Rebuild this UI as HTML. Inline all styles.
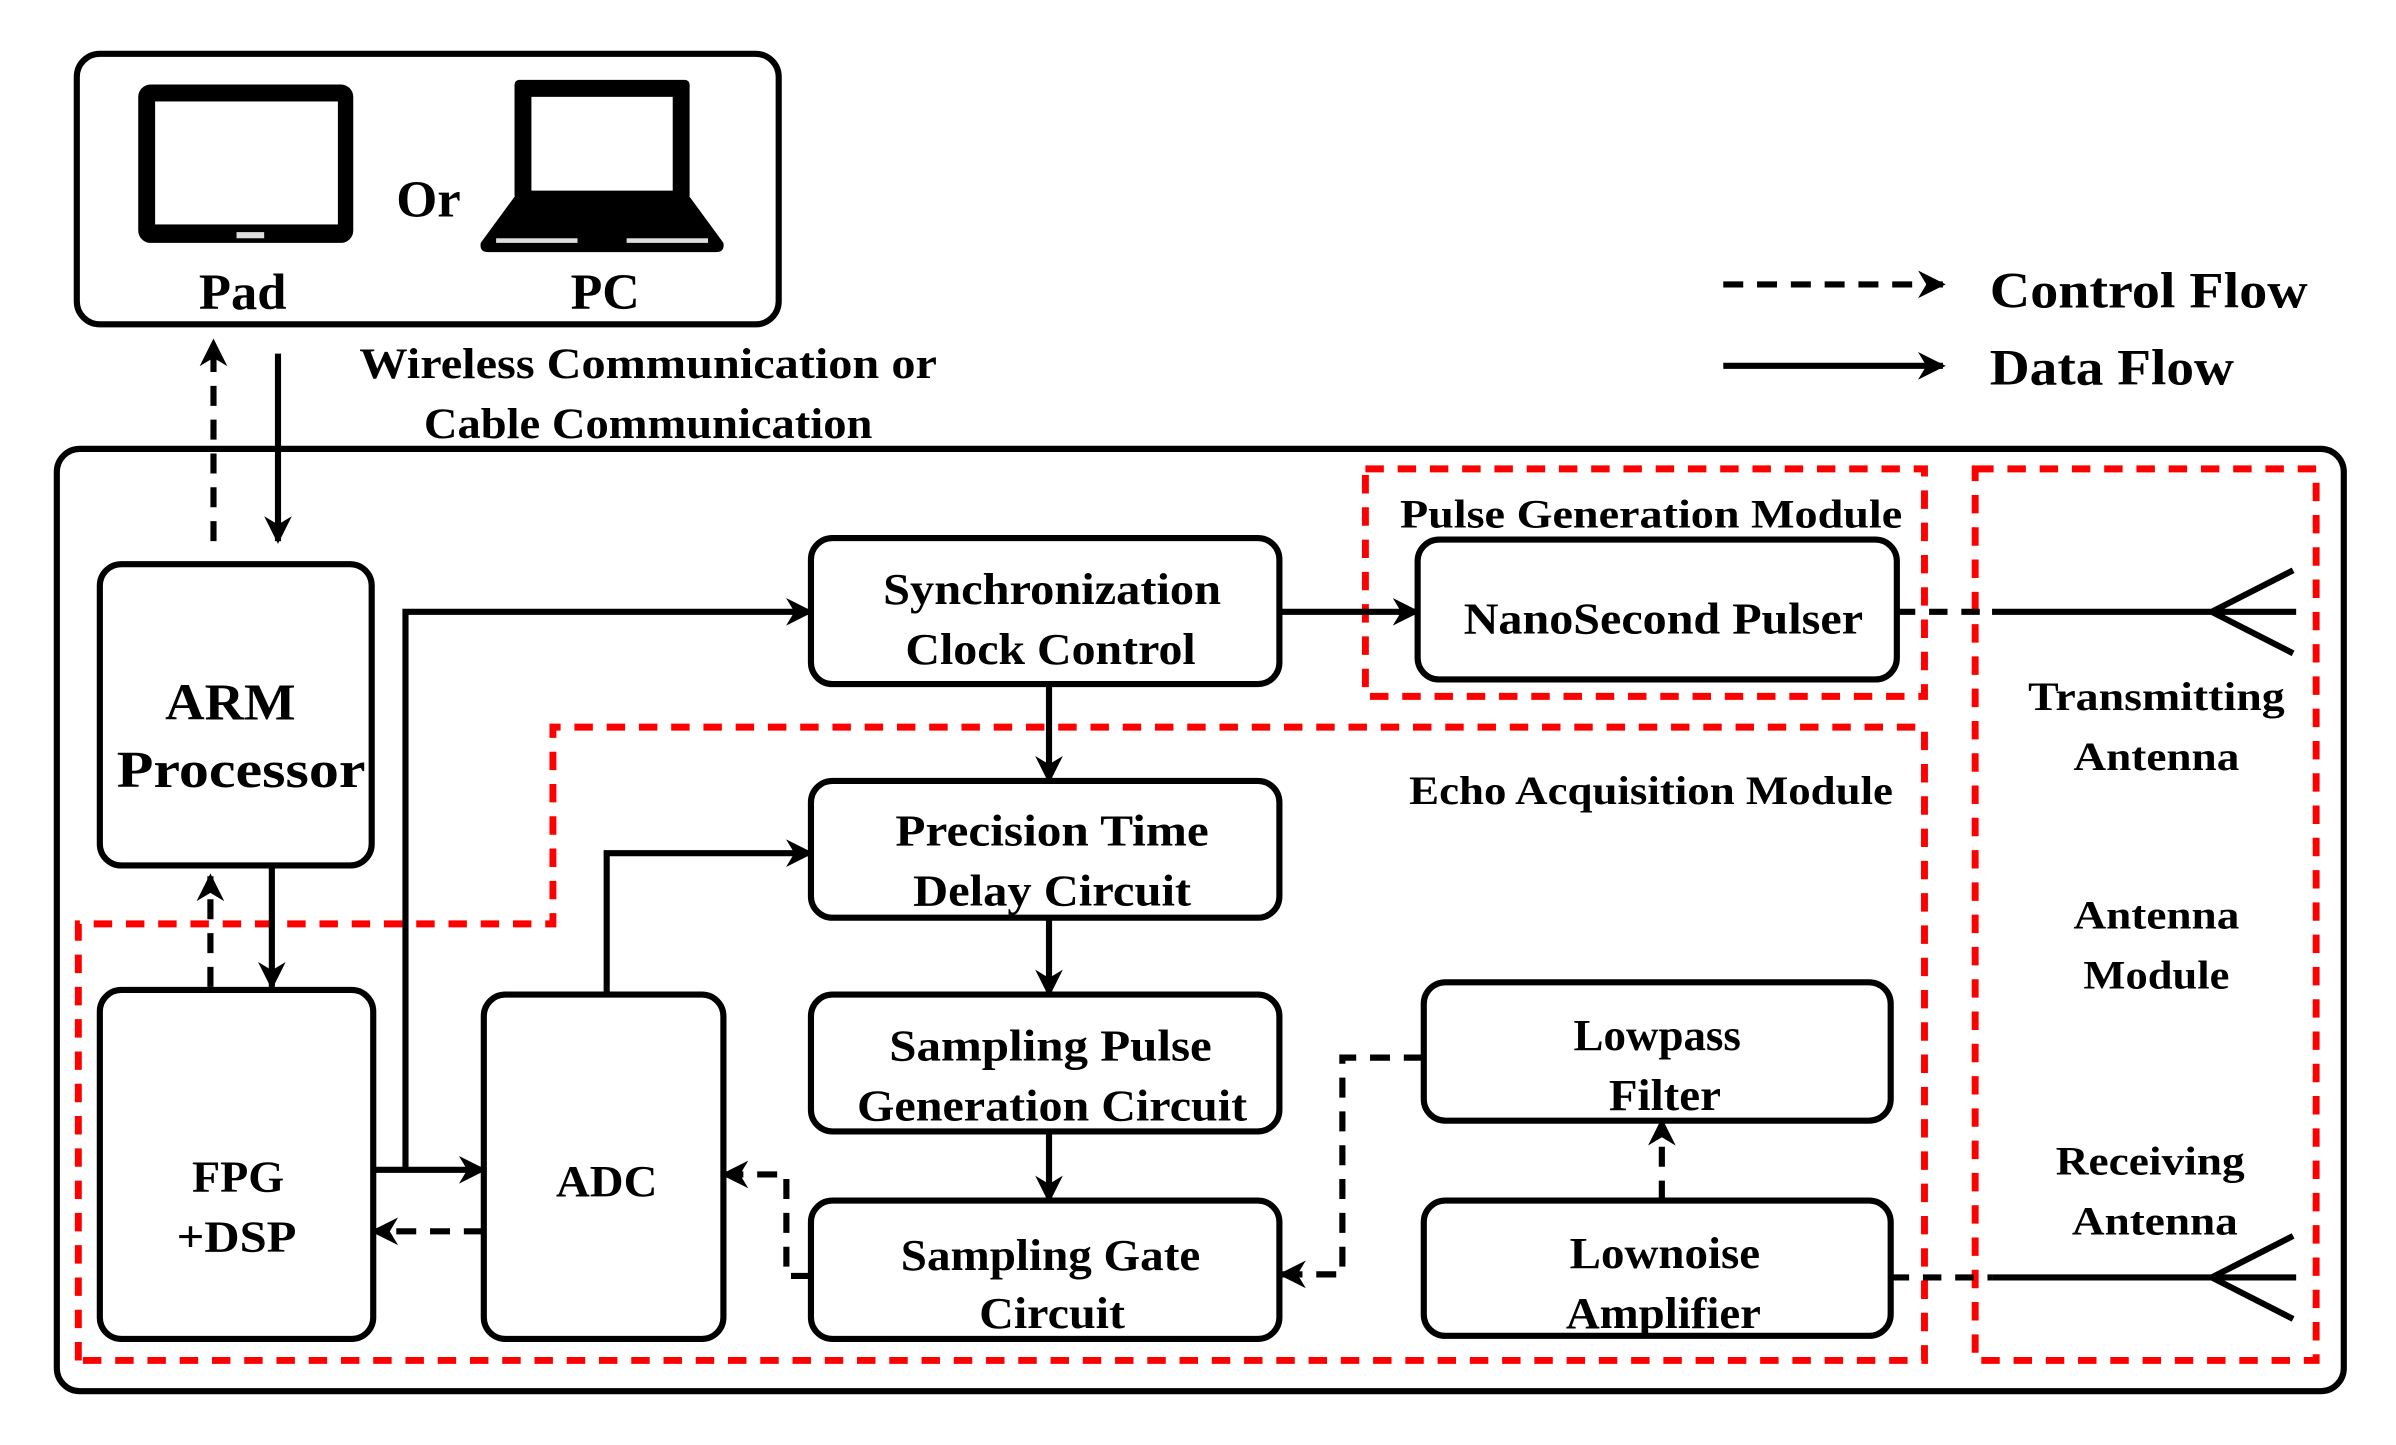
<!DOCTYPE html>
<html><head><meta charset="utf-8"><style>html,body{margin:0;padding:0;background:#fff}svg{display:block}</style></head><body>
<svg width="2396" height="1445" viewBox="0 0 1560 940" preserveAspectRatio="none" xmlns="http://www.w3.org/2000/svg" font-family="Liberation Serif, serif" font-weight="bold">
<defs>
<marker id="ah" viewBox="0 0 10 10" refX="9" refY="5" markerWidth="18" markerHeight="18" orient="auto" markerUnits="userSpaceOnUse">
<path d="M0,0 L10,5 L0,10 L3,5 z" fill="#000" stroke="none"/>
</marker>
</defs>
<g fill="none" stroke="#000" stroke-width="4">
<rect x="50" y="35" width="457" height="176" rx="15"/>
<rect x="37" y="292" width="1489" height="613" rx="15"/>
<rect x="65" y="367" width="177" height="196" rx="14"/>
<rect x="65" y="644" width="178" height="227" rx="14"/>
<rect x="315" y="647" width="156" height="224" rx="14"/>
<rect x="528" y="350" width="305" height="95" rx="14"/>
<rect x="528" y="508" width="305" height="89" rx="14"/>
<rect x="528" y="647" width="305" height="89" rx="14"/>
<rect x="528" y="781" width="305" height="90" rx="14"/>
<rect x="923" y="351" width="312" height="91" rx="14"/>
<rect x="927" y="639" width="304" height="90" rx="14"/>
<rect x="927" y="781" width="304" height="88" rx="14"/>
</g>
<g fill="none" stroke="#f00" stroke-width="4.5" stroke-dasharray="12,9">
<rect x="889" y="305" width="364" height="148"/>
<rect x="1286" y="305" width="222" height="580"/>
<path d="M51,885 L51,601 L360,601 L360,473 L1253,473 L1253,885 Z"/>
</g>
<rect x="90" y="55" width="140" height="103" rx="8" fill="#000"/>
<rect x="101" y="66" width="119" height="80" fill="#fff"/>
<rect x="154" y="151" width="18" height="4" fill="#ddd"/>
<rect x="335" y="52" width="114" height="78" rx="3" fill="#000"/>
<rect x="346" y="63" width="92" height="61" fill="#fff"/>
<path d="M335,128 L449,128 L471,158 Q472,164 466,164 L318,164 Q312,164 313,158 Z" fill="#000"/>
<rect x="323" y="155" width="53" height="3" fill="#ddd"/>
<rect x="408" y="155" width="53" height="3" fill="#ddd"/>
<g fill="#000" text-anchor="middle" lengthAdjust="spacingAndGlyphs">
<text x="279" y="141" font-size="34" textLength="42" lengthAdjust="spacingAndGlyphs">Or</text>
<text x="158" y="201" font-size="33" textLength="57" lengthAdjust="spacingAndGlyphs">Pad</text>
<text x="394" y="201" font-size="33" textLength="45" lengthAdjust="spacingAndGlyphs">PC</text>
<text x="422" y="246" font-size="28" textLength="376" lengthAdjust="spacingAndGlyphs">Wireless Communication or</text>
<text x="422" y="285" font-size="28" textLength="292" lengthAdjust="spacingAndGlyphs">Cable Communication</text>
<text x="1399" y="200" font-size="33" textLength="207" lengthAdjust="spacingAndGlyphs">Control Flow</text>
<text x="1375" y="250" font-size="33" textLength="159" lengthAdjust="spacingAndGlyphs">Data Flow</text>
<text x="1075" y="343" font-size="26" textLength="327" lengthAdjust="spacingAndGlyphs">Pulse Generation Module</text>
<text x="1075" y="523" font-size="26" textLength="315" lengthAdjust="spacingAndGlyphs">Echo Acquisition Module</text>
<text x="1404" y="462" font-size="26" textLength="167" lengthAdjust="spacingAndGlyphs">Transmitting</text>
<text x="1404" y="501" font-size="26" textLength="108" lengthAdjust="spacingAndGlyphs">Antenna</text>
<text x="1404" y="604" font-size="26" textLength="108" lengthAdjust="spacingAndGlyphs">Antenna</text>
<text x="1404" y="643" font-size="26" textLength="95" lengthAdjust="spacingAndGlyphs">Module</text>
<text x="1400" y="764" font-size="26" textLength="123" lengthAdjust="spacingAndGlyphs">Receiving</text>
<text x="1403" y="803" font-size="26" textLength="108" lengthAdjust="spacingAndGlyphs">Antenna</text>
<text x="150" y="468" font-size="34" textLength="85" lengthAdjust="spacingAndGlyphs">ARM</text>
<text x="157" y="512" font-size="34" textLength="162" lengthAdjust="spacingAndGlyphs">Processor</text>
<text x="155" y="775" font-size="29" textLength="60" lengthAdjust="spacingAndGlyphs">FPG</text>
<text x="154" y="814" font-size="29" textLength="78" lengthAdjust="spacingAndGlyphs">+DSP</text>
<text x="395" y="778" font-size="29" textLength="66" lengthAdjust="spacingAndGlyphs">ADC</text>
<text x="685" y="393" font-size="29" textLength="220" lengthAdjust="spacingAndGlyphs">Synchronization</text>
<text x="684" y="432" font-size="29" textLength="189" lengthAdjust="spacingAndGlyphs">Clock Control</text>
<text x="685" y="550" font-size="29" textLength="204" lengthAdjust="spacingAndGlyphs">Precision Time</text>
<text x="685" y="589" font-size="29" textLength="181" lengthAdjust="spacingAndGlyphs">Delay Circuit</text>
<text x="684" y="690" font-size="29" textLength="210" lengthAdjust="spacingAndGlyphs">Sampling Pulse</text>
<text x="685" y="729" font-size="29" textLength="254" lengthAdjust="spacingAndGlyphs">Generation Circuit</text>
<text x="684" y="826" font-size="29" textLength="195" lengthAdjust="spacingAndGlyphs">Sampling Gate</text>
<text x="685" y="864" font-size="29" textLength="95" lengthAdjust="spacingAndGlyphs">Circuit</text>
<text x="1083" y="412" font-size="29" textLength="260" lengthAdjust="spacingAndGlyphs">NanoSecond Pulser</text>
<text x="1079" y="683" font-size="29" textLength="109" lengthAdjust="spacingAndGlyphs">Lowpass</text>
<text x="1084" y="722" font-size="29" textLength="73" lengthAdjust="spacingAndGlyphs">Filter</text>
<text x="1084" y="825" font-size="29" textLength="124" lengthAdjust="spacingAndGlyphs">Lownoise</text>
<text x="1083" y="864" font-size="29" textLength="127" lengthAdjust="spacingAndGlyphs">Amplifier</text>
</g>
<g fill="none" stroke="#000" stroke-width="4" marker-end="url(#ah)">
<path d="M1122,238 L1265,238"/>
<path d="M181,230 L181,352"/>
<path d="M177,565 L177,642"/>
<path d="M243,761 L315,761"/>
<path d="M264,761 L264,398 L528,398"/>
<path d="M395,647 L395,555 L528,555"/>
<path d="M683,445 L683,508"/>
<path d="M683,597 L683,647"/>
<path d="M683,736 L683,781"/>
<path d="M833,398 L923,398"/>
</g>
<g fill="none" stroke="#000" stroke-width="4" stroke-dasharray="13,9" marker-end="url(#ah)">
<path d="M1122,185 L1265,185"/>
<path d="M139,352 L139,222"/>
<path d="M137,642 L137,570"/>
<path d="M315,801 L243,801"/>
<path d="M528,830 L512,830 L512,764 L471,764"/>
<path d="M927,688 L874,688 L874,829 L834,829"/>
<path d="M1082,781 L1082,729"/>
</g>
<g fill="none" stroke="#000" stroke-width="4">
<path d="M1235,398 L1297,398" stroke-dasharray="12,9"/>
<path d="M1297,398 L1495,398 M1440,398 L1493,371 M1440,398 L1493,425"/>
<path d="M1231,831 L1297,831" stroke-dasharray="12,9"/>
<path d="M1297,831 L1495,831 M1440,831 L1493,804 M1440,831 L1493,858"/>
</g>
</svg>
</body></html>
